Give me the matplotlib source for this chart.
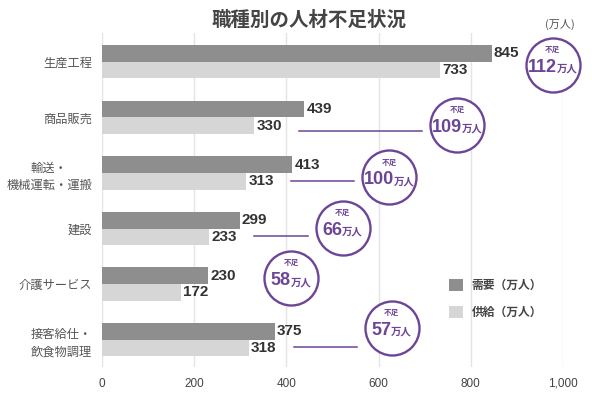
import matplotlib
matplotlib.use("Agg")
import matplotlib.pyplot as plt
from matplotlib.patches import Patch

# Data (万人)
categories = ["生産工程", "商品販売", "輸送・\n機械運転・運搬", "建設", "介護サービス", "接客給仕・\n飲食物調理"]
demand = [845, 439, 413, 299, 230, 375]
supply = [733, 330, 313, 233, 172, 318]
x_ticks = [0, 200, 400, 600, 800, 1000]
x_tick_labels = ["0", "200", "400", "600", "800", "1,000"]

# Layout of the shortage bubbles (data x, y offset from group centre)
bubble_x = [978, 770, 623, 522, 410, 628]
bubble_dy = [0.06, 0.134, 0.078, -0.015, -0.107, -0.218]
# connector lines: (category index, y offset)
connectors = [(1, 0.243), (2, 0.151), (3, 0.131), (5, 0.127)]

JP = "Noto Sans CJK JP"
NUM = "Liberation Sans"
PURPLE = "#6c4596"
DEMAND_C = "#8e8e8e"
SUPPLY_C = "#d6d6d6"

DPI = 100
fig = plt.figure(figsize=(5.92, 4.0), dpi=DPI)
ax = fig.add_axes([102 / 592, 33 / 400, (563 - 102) / 592, (367 - 33) / 400])

n = len(categories)
pos = list(range(n))
bh = 0.30
ax.barh([p - bh / 2 for p in pos], demand, height=bh, color=DEMAND_C, zorder=2)
ax.barh([p + bh / 2 for p in pos], supply, height=bh, color=SUPPLY_C, zorder=2)

ax.set_xlim(0, 1000)
ax.set_ylim(n - 0.51, -0.517)

ax.set_xticks(x_ticks)
ax.set_xticklabels(x_tick_labels, family=NUM, fontsize=8.5, color="#444444",
                   va="center")
ax.set_yticks(pos)
ax.set_yticklabels(categories, family=JP, fontsize=8.8, color="#555555",
                   multialignment="center", linespacing=1.4)
ax.tick_params(length=0)
ax.tick_params(axis="x", pad=12)
ax.tick_params(axis="y", pad=7)
for s in ax.spines.values():
    s.set_visible(False)
ax.grid(axis="x", color="#e4e4e4", linewidth=1, zorder=0)
ax.set_axisbelow(True)

# value labels
for p, d, s in zip(pos, demand, supply):
    ax.annotate(str(d), (d, p - bh / 2), xytext=(1.5, 0), textcoords="offset points",
                ha="left", va="center", family=NUM, fontweight="bold",
                fontsize=11, color="#333333", zorder=4)
    ax.annotate(str(s), (s, p + bh / 2), xytext=(1.5, 0), textcoords="offset points",
                ha="left", va="center", family=NUM, fontweight="bold",
                fontsize=11, color="#333333", zorder=4)

# bubbles
radius_px = 27
ms = (2 * radius_px * 72 / DPI) ** 2
bx = bubble_x
by = [p + dy for p, dy in zip(pos, bubble_dy)]
ax.scatter(bx, by, s=ms, facecolor="white", edgecolor=PURPLE, linewidth=1.7,
           zorder=5, clip_on=False)

ppu = ax.get_position().width * 592 / 1000  # pixels per data unit
for i, yoff in connectors:
    x0 = supply[i] + 45 / ppu
    x1 = bubble_x[i] - (radius_px + 8) / ppu
    ax.plot([x0, x1], [pos[i] + yoff] * 2, color=PURPLE, linewidth=1.1, zorder=3)

fig.canvas.draw()
renderer = fig.canvas.get_renderer()
for i in range(n):
    gap = demand[i] - supply[i]
    ax.annotate("不足", (bx[i], by[i]), xytext=(0, 11), textcoords="offset points",
                ha="center", va="center", family=JP, fontsize=5.5,
                fontweight="bold", color=PURPLE, zorder=6, annotation_clip=False)
    tn = ax.annotate(str(gap), (bx[i], by[i]), xytext=(0, -5), textcoords="offset points",
                     ha="right", va="baseline", family=NUM, fontsize=13,
                     fontweight="bold", color=PURPLE, zorder=6, annotation_clip=False)
    tu = ax.annotate("万人", (bx[i], by[i]), xytext=(0, -5), textcoords="offset points",
                     ha="left", va="baseline", family=JP, fontsize=7.5,
                     fontweight="bold", color=PURPLE, zorder=6, annotation_clip=False)
    wn = tn.get_window_extent(renderer).width
    wu = tu.get_window_extent(renderer).width
    dx = (-(wn + wu) / 2 + wn) * 72 / DPI
    tn.xyann = (dx, -5)
    tu.xyann = (dx, -5)

# legend
handles = [Patch(facecolor=DEMAND_C, edgecolor="none"),
           Patch(facecolor=SUPPLY_C, edgecolor="none")]
fig.legend(handles, ["需要（万人）", "供給（万人）"], loc="upper left",
           bbox_to_anchor=(449 / 592, 1 - 279 / 400), frameon=False,
           prop={"family": JP, "size": 8.5, "weight": "bold"},
           handlelength=1.2, handleheight=1.2, handletextpad=0.7,
           labelspacing=1.15, borderpad=0, borderaxespad=0,
           labelcolor="#444444")

fig.text(309 / 592, 1 - 20 / 400, "職種別の人材不足状況", ha="center", va="center",
         family=JP, fontsize=14, fontweight="bold", color="#444444")
fig.text(560 / 592, 1 - 24 / 400, "(万人)", ha="center", va="center",
         family=JP, fontsize=8, color="#555555")

fig.savefig("out.png", dpi=DPI)
